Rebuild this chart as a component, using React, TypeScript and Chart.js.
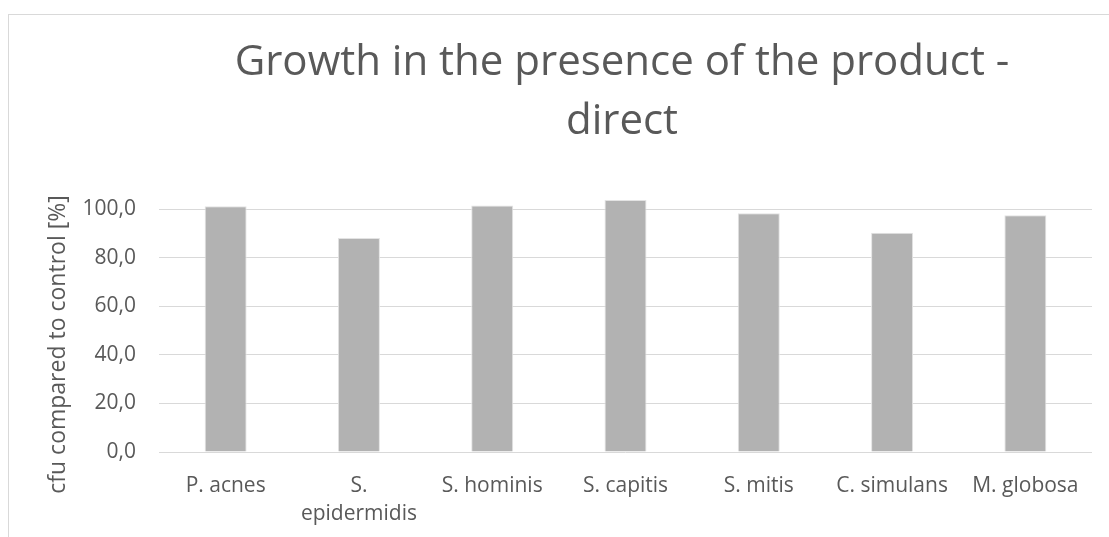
import React, { useEffect, useRef } from "react";
import { Chart, registerables } from "chart.js";

Chart.register(...registerables);

const titleLines = ["Growth in the presence of the product -", "direct"];
const yAxisTitle = "cfu compared to control [%]";
const categories: (string | string[])[] = [
  "P. acnes",
  ["S.", "epidermidis"],
  "S. hominis",
  "S. capitis",
  "S. mitis",
  "C. simulans",
  "M. globosa",
];
const values = [101.1, 88.1, 101.4, 103.7, 98.2, 90.2, 97.4];
const yMin = 0;
const yMax = 100;
const yStep = 20;

const TEXT = "#595959";
const GRID = "#d9d9d9";
const BAR = "#b2b2b2";
const FONT = '"Open Sans", sans-serif';

const yTitlePlugin = {
  id: "yTitlePlugin",
  afterDraw(chart: any) {
    const ctx = chart.ctx;
    ctx.save();
    ctx.translate(49, 329.5);
    ctx.rotate(-Math.PI / 2);
    ctx.font = `23px ${FONT}`;
    ctx.fillStyle = TEXT;
    ctx.textAlign = "center";
    ctx.textBaseline = "middle";
    ctx.fillText(yAxisTitle, 0, 0);
    ctx.restore();
  },
};

export default function App() {
  const ref = useRef<HTMLCanvasElement | null>(null);
  useEffect(() => {
    if (!ref.current) return;
    const chart = new Chart(ref.current, {
      type: "bar",
      data: {
        labels: categories,
        datasets: [
          {
            data: values,
            backgroundColor: BAR,
            borderColor: "#e3e3e3",
            borderWidth: 1,
            categoryPercentage: 1,
            barPercentage: 0.315,
            clip: false as any,
            yAxisID: "y",
          },
        ],
      },
      options: {
        animation: false,
        responsive: false,
        devicePixelRatio: 1,
        layout: { padding: { left: 0, right: 0, top: 0, bottom: 0 } },
        plugins: {
          legend: { display: false },
          tooltip: { enabled: false },
          title: {
            display: true,
            text: titleLines,
            color: TEXT,
            font: { family: FONT, size: 42, weight: "normal", lineHeight: 59 / 42 },
            padding: { top: 19, bottom: 57 },
          },
        },
        scales: {
          x: {
            grid: { display: false },
            border: { display: false },
            ticks: {
              color: TEXT,
              font: { family: FONT, size: 21, lineHeight: 28 / 21 },
              padding: 12,
              maxRotation: 0,
              autoSkip: false,
            },
            afterFit(scale: any) {
              scale.height = 85;
            },
          },
          y: {
            position: "left",
            min: yMin,
            max: yMax,
            border: { display: false },
            grid: { color: GRID, lineWidth: 1, drawTicks: false },
            ticks: {
              stepSize: yStep,
              color: TEXT,
              font: { family: FONT, size: 21 },
              padding: 23,
              callback: (v: any) => Number(v).toFixed(1).replace(".", ","),
            },
            afterFit(scale: any) {
              scale.width = 150;
            },
          },
          yRight: {
            position: "right",
            display: true,
            min: yMin,
            max: yMax,
            grid: { display: false, drawTicks: false },
            border: { display: false },
            ticks: { display: false },
            afterFit(scale: any) {
              scale.width = 143;
            },
          },
        },
      },
      plugins: [yTitlePlugin],
    });
    return () => chart.destroy();
  }, []);

  return (
    <div style={{ position: "fixed", left: 0, top: 0, width: 1109, height: 537, overflow: "hidden", background: "#fff" }}>
      <div
        style={{
          position: "absolute",
          left: 8,
          top: 14,
          borderLeft: `1px solid ${GRID}`,
          borderTop: `1px solid ${GRID}`,
          width: 1226,
          height: 600,
        }}
      >
        <canvas ref={ref} width={1226} height={522} style={{ display: "block", width: 1226, height: 522 }} />
      </div>
    </div>
  );
}
